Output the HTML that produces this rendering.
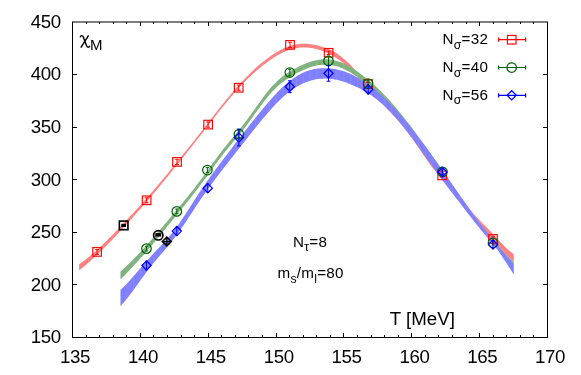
<!DOCTYPE html>
<html><head><meta charset="utf-8"><title>chart</title>
<style>
html,body{margin:0;padding:0;background:#fff;}
body{width:581px;height:375px;overflow:hidden;font-family:"Liberation Sans",sans-serif;}
svg{display:block;will-change:transform;}
svg text{font-family:"Liberation Sans",sans-serif;fill:#000;}
</style></head><body>
<svg width="581" height="375" viewBox="0 0 581 375">
<rect width="581" height="375" fill="#fff"/>
<defs><clipPath id="cr"><path d="M79.10 264.30 L80.78 263.12 L82.46 261.90 L84.14 260.64 L85.81 259.35 L87.49 258.02 L89.17 256.66 L90.85 255.27 L92.53 253.85 L94.21 252.39 L95.88 250.91 L97.56 249.39 L99.24 247.86 L100.92 246.29 L102.60 244.70 L104.28 243.09 L105.95 241.45 L107.63 239.79 L109.31 238.12 L110.99 236.43 L112.67 234.72 L114.35 232.99 L116.02 231.26 L117.70 229.51 L119.38 227.75 L121.06 225.98 L122.74 224.20 L124.42 222.42 L126.09 220.63 L127.77 218.84 L129.45 217.04 L131.13 215.24 L132.81 213.43 L134.49 211.61 L136.16 209.78 L137.84 207.94 L139.52 206.10 L141.20 204.24 L142.88 202.37 L144.56 200.49 L146.24 198.60 L147.91 196.69 L149.59 194.77 L151.27 192.83 L152.95 190.88 L154.63 188.92 L156.31 186.95 L157.98 184.97 L159.66 182.97 L161.34 180.97 L163.02 178.96 L164.70 176.94 L166.38 174.91 L168.05 172.88 L169.73 170.84 L171.41 168.79 L173.09 166.74 L174.77 164.68 L176.45 162.63 L178.12 160.56 L179.80 158.50 L181.48 156.43 L183.16 154.36 L184.84 152.28 L186.52 150.19 L188.19 148.10 L189.87 146.01 L191.55 143.91 L193.23 141.79 L194.91 139.68 L196.59 137.55 L198.26 135.42 L199.94 133.27 L201.62 131.12 L203.30 128.96 L204.98 126.80 L206.66 124.63 L208.34 122.47 L210.01 120.30 L211.69 118.14 L213.37 115.98 L215.05 113.83 L216.73 111.68 L218.41 109.55 L220.08 107.43 L221.76 105.32 L223.44 103.23 L225.12 101.15 L226.80 99.10 L228.48 97.06 L230.15 95.04 L231.83 93.05 L233.51 91.08 L235.19 89.14 L236.87 87.22 L238.55 85.34 L240.22 83.48 L241.90 81.66 L243.58 79.88 L245.26 78.13 L246.94 76.42 L248.62 74.73 L250.29 73.08 L251.97 71.46 L253.65 69.88 L255.33 68.33 L257.01 66.83 L258.69 65.37 L260.36 63.94 L262.04 62.56 L263.72 61.22 L265.40 59.91 L267.08 58.64 L268.76 57.41 L270.44 56.22 L272.11 55.07 L273.79 53.97 L275.47 52.91 L277.15 51.89 L278.83 50.93 L280.51 50.02 L282.18 49.16 L283.86 48.35 L285.54 47.61 L287.22 46.93 L288.90 46.32 L290.58 45.77 L292.25 45.29 L293.93 44.88 L295.61 44.53 L297.29 44.25 L298.97 44.03 L300.65 43.87 L302.32 43.77 L304.00 43.74 L305.68 43.77 L307.36 43.85 L309.04 43.99 L310.72 44.18 L312.39 44.43 L314.07 44.72 L315.75 45.06 L317.43 45.46 L319.11 45.90 L320.79 46.38 L322.46 46.89 L324.14 47.42 L325.82 47.99 L327.50 48.62 L329.18 49.30 L330.86 50.06 L332.54 50.90 L334.21 51.83 L335.89 52.86 L337.57 53.98 L339.25 55.18 L340.93 56.45 L342.61 57.80 L344.28 59.22 L345.96 60.70 L347.64 62.24 L349.32 63.84 L351.00 65.49 L352.68 67.19 L354.35 68.93 L356.03 70.71 L357.71 72.51 L359.39 74.33 L361.07 76.16 L362.75 77.99 L364.42 79.82 L366.10 81.64 L367.78 83.43 L369.46 85.19 L371.14 86.91 L372.82 88.59 L374.49 90.23 L376.17 91.83 L377.85 93.41 L379.53 94.98 L381.21 96.54 L382.89 98.11 L384.56 99.68 L386.24 101.27 L387.92 102.89 L389.60 104.54 L391.28 106.24 L392.96 107.99 L394.64 109.80 L396.31 111.67 L397.99 113.59 L399.67 115.57 L401.35 117.60 L403.03 119.67 L404.71 121.79 L406.38 123.96 L408.06 126.16 L409.74 128.41 L411.42 130.70 L413.10 133.02 L414.78 135.37 L416.45 137.76 L418.13 140.18 L419.81 142.62 L421.49 145.10 L423.17 147.59 L424.85 150.08 L426.52 152.55 L428.20 154.99 L429.88 157.37 L431.56 159.68 L433.24 161.89 L434.92 164.00 L436.59 166.00 L438.27 167.92 L439.95 169.81 L441.63 171.68 L443.31 173.56 L444.99 175.48 L446.66 177.49 L448.34 179.60 L450.02 181.78 L451.70 184.04 L453.38 186.36 L455.06 188.72 L456.74 191.11 L458.41 193.51 L460.09 195.92 L461.77 198.32 L463.45 200.70 L465.13 203.04 L466.81 205.33 L468.48 207.55 L470.16 209.70 L471.84 211.76 L473.52 213.74 L475.20 215.64 L476.88 217.48 L478.55 219.27 L480.23 221.01 L481.91 222.73 L483.59 224.43 L485.27 226.12 L486.95 227.82 L488.62 229.53 L490.30 231.27 L491.98 233.03 L493.66 234.82 L495.34 236.62 L497.02 238.42 L498.69 240.22 L500.37 242.00 L502.05 243.75 L503.73 245.46 L505.41 247.13 L507.09 248.75 L508.76 250.27 L510.44 251.70 L512.12 253.05 L513.80 254.30 L513.80 261.80 L512.12 260.35 L510.44 258.82 L508.76 257.22 L507.09 255.58 L505.41 253.91 L503.73 252.19 L502.05 250.44 L500.37 248.65 L498.69 246.85 L497.02 245.03 L495.34 243.21 L493.66 241.38 L491.98 239.57 L490.30 237.77 L488.62 236.00 L486.95 234.24 L485.27 232.50 L483.59 230.75 L481.91 228.99 L480.23 227.22 L478.55 225.42 L476.88 223.58 L475.20 221.70 L473.52 219.77 L471.84 217.77 L470.16 215.70 L468.48 213.55 L466.81 211.33 L465.13 209.04 L463.45 206.70 L461.77 204.32 L460.09 201.92 L458.41 199.51 L456.74 197.11 L455.06 194.72 L453.38 192.36 L451.70 190.04 L450.02 187.78 L448.34 185.60 L446.66 183.49 L444.99 181.48 L443.31 179.60 L441.63 177.81 L439.95 176.06 L438.27 174.32 L436.59 172.51 L434.92 170.60 L433.24 168.56 L431.56 166.41 L429.88 164.16 L428.20 161.84 L426.52 159.45 L424.85 157.02 L423.17 154.56 L421.49 152.09 L419.81 149.62 L418.13 147.18 L416.45 144.76 L414.78 142.37 L413.10 140.02 L411.42 137.70 L409.74 135.41 L408.06 133.16 L406.38 130.96 L404.71 128.79 L403.03 126.67 L401.35 124.60 L399.67 122.57 L397.99 120.59 L396.31 118.67 L394.64 116.80 L392.96 114.97 L391.28 113.18 L389.60 111.41 L387.92 109.67 L386.24 107.95 L384.56 106.24 L382.89 104.55 L381.21 102.85 L379.53 101.16 L377.85 99.45 L376.17 97.74 L374.49 96.01 L372.82 94.26 L371.14 92.47 L369.46 90.66 L367.78 88.81 L366.10 86.92 L364.42 85.00 L362.75 83.07 L361.07 81.14 L359.39 79.22 L357.71 77.32 L356.03 75.44 L354.35 73.60 L352.68 71.82 L351.00 70.09 L349.32 68.44 L347.64 66.86 L345.96 65.37 L344.28 63.95 L342.61 62.60 L340.93 61.31 L339.25 60.10 L337.57 58.95 L335.89 57.86 L334.21 56.82 L332.54 55.83 L330.86 54.87 L329.18 53.96 L327.50 53.11 L325.82 52.31 L324.14 51.57 L322.46 50.90 L320.79 50.30 L319.11 49.78 L317.43 49.30 L315.75 48.88 L314.07 48.50 L312.39 48.18 L310.72 47.92 L309.04 47.71 L307.36 47.56 L305.68 47.47 L304.00 47.44 L302.32 47.47 L300.65 47.57 L298.97 47.73 L297.29 47.95 L295.61 48.23 L293.93 48.58 L292.25 48.99 L290.58 49.47 L288.90 50.02 L287.22 50.63 L285.54 51.30 L283.86 52.03 L282.18 52.82 L280.51 53.66 L278.83 54.56 L277.15 55.51 L275.47 56.51 L273.79 57.56 L272.11 58.65 L270.44 59.79 L268.76 60.97 L267.08 62.19 L265.40 63.45 L263.72 64.75 L262.04 66.08 L260.36 67.45 L258.69 68.84 L257.01 70.26 L255.33 71.71 L253.65 73.19 L251.97 74.70 L250.29 76.24 L248.62 77.83 L246.94 79.46 L245.26 81.14 L243.58 82.86 L241.90 84.62 L240.22 86.41 L238.55 88.24 L236.87 90.10 L235.19 92.00 L233.51 93.92 L231.83 95.88 L230.15 97.86 L228.48 99.87 L226.80 101.90 L225.12 103.95 L223.44 106.03 L221.76 108.12 L220.08 110.23 L218.41 112.35 L216.73 114.48 L215.05 116.63 L213.37 118.78 L211.69 120.94 L210.01 123.10 L208.34 125.27 L206.66 127.43 L204.98 129.60 L203.30 131.76 L201.62 133.92 L199.94 136.07 L198.26 138.22 L196.59 140.36 L194.91 142.49 L193.23 144.62 L191.55 146.74 L189.87 148.85 L188.19 150.96 L186.52 153.07 L184.84 155.17 L183.16 157.27 L181.48 159.36 L179.80 161.45 L178.12 163.53 L176.45 165.61 L174.77 167.69 L173.09 169.76 L171.41 171.83 L169.73 173.90 L168.05 175.96 L166.38 178.02 L164.70 180.07 L163.02 182.12 L161.34 184.16 L159.66 186.19 L157.98 188.21 L156.31 190.23 L154.63 192.23 L152.95 194.22 L151.27 196.21 L149.59 198.18 L147.91 200.14 L146.24 202.09 L144.56 204.03 L142.88 205.96 L141.20 207.89 L139.52 209.80 L137.84 211.71 L136.16 213.60 L134.49 215.49 L132.81 217.37 L131.13 219.24 L129.45 221.10 L127.77 222.95 L126.09 224.80 L124.42 226.64 L122.74 228.47 L121.06 230.29 L119.38 232.10 L117.70 233.91 L116.02 235.70 L114.35 237.48 L112.67 239.24 L110.99 240.99 L109.31 242.73 L107.63 244.45 L105.95 246.15 L104.28 247.84 L102.60 249.51 L100.92 251.16 L99.24 252.78 L97.56 254.39 L95.88 255.97 L94.21 257.54 L92.53 259.07 L90.85 260.58 L89.17 262.06 L87.49 263.51 L85.81 264.94 L84.14 266.33 L82.46 267.69 L80.78 269.01 L79.10 270.30 Z"/></clipPath><clipPath id="cg"><path d="M120.45 271.50 L121.97 270.16 L123.49 268.80 L125.01 267.42 L126.52 266.01 L128.04 264.58 L129.56 263.12 L131.08 261.64 L132.60 260.13 L134.12 258.60 L135.64 257.04 L137.16 255.46 L138.67 253.86 L140.19 252.24 L141.71 250.60 L143.23 248.95 L144.75 247.28 L146.27 245.59 L147.79 243.89 L149.31 242.19 L150.82 240.46 L152.34 238.73 L153.86 236.99 L155.38 235.25 L156.90 233.49 L158.42 231.72 L159.94 229.95 L161.46 228.16 L162.97 226.38 L164.49 224.58 L166.01 222.78 L167.53 220.97 L169.05 219.15 L170.57 217.33 L172.09 215.51 L173.61 213.68 L175.12 211.85 L176.64 210.02 L178.16 208.18 L179.68 206.35 L181.20 204.51 L182.72 202.66 L184.24 200.81 L185.76 198.95 L187.27 197.08 L188.79 195.19 L190.31 193.30 L191.83 191.39 L193.35 189.46 L194.87 187.52 L196.39 185.56 L197.91 183.57 L199.42 181.57 L200.94 179.54 L202.46 177.49 L203.98 175.42 L205.50 173.33 L207.02 171.24 L208.54 169.14 L210.05 167.03 L211.57 164.93 L213.09 162.83 L214.61 160.74 L216.13 158.66 L217.65 156.60 L219.17 154.55 L220.69 152.53 L222.20 150.54 L223.72 148.57 L225.24 146.64 L226.76 144.75 L228.28 142.89 L229.80 141.04 L231.32 139.22 L232.84 137.40 L234.35 135.59 L235.87 133.77 L237.39 131.95 L238.91 130.11 L240.43 128.25 L241.95 126.36 L243.47 124.43 L244.99 122.47 L246.50 120.46 L248.02 118.41 L249.54 116.33 L251.06 114.22 L252.58 112.09 L254.10 109.96 L255.62 107.82 L257.14 105.69 L258.65 103.56 L260.17 101.46 L261.69 99.38 L263.21 97.34 L264.73 95.33 L266.25 93.36 L267.77 91.45 L269.29 89.59 L270.80 87.80 L272.32 86.08 L273.84 84.44 L275.36 82.89 L276.88 81.42 L278.40 80.04 L279.92 78.73 L281.43 77.49 L282.95 76.31 L284.47 75.19 L285.99 74.12 L287.51 73.09 L289.03 72.11 L290.55 71.16 L292.07 70.24 L293.58 69.36 L295.10 68.50 L296.62 67.67 L298.14 66.88 L299.66 66.12 L301.18 65.39 L302.70 64.69 L304.22 64.03 L305.73 63.40 L307.25 62.81 L308.77 62.26 L310.29 61.76 L311.81 61.30 L313.33 60.88 L314.85 60.51 L316.37 60.18 L317.88 59.91 L319.40 59.68 L320.92 59.50 L322.44 59.37 L323.96 59.31 L325.48 59.29 L327.00 59.34 L328.52 59.44 L330.03 59.59 L331.55 59.81 L333.07 60.08 L334.59 60.40 L336.11 60.79 L337.63 61.22 L339.15 61.72 L340.67 62.27 L342.18 62.87 L343.70 63.53 L345.22 64.24 L346.74 65.00 L348.26 65.81 L349.78 66.67 L351.30 67.58 L352.82 68.52 L354.33 69.50 L355.85 70.51 L357.37 71.56 L358.89 72.64 L360.41 73.75 L361.93 74.89 L363.45 76.07 L364.96 77.27 L366.48 78.50 L368.00 79.75 L369.52 81.02 L371.04 82.32 L372.56 83.63 L374.08 84.98 L375.60 86.35 L377.11 87.75 L378.63 89.17 L380.15 90.63 L381.67 92.12 L383.19 93.64 L384.71 95.20 L386.23 96.79 L387.75 98.42 L389.26 100.08 L390.78 101.77 L392.30 103.50 L393.82 105.25 L395.34 107.03 L396.86 108.84 L398.38 110.68 L399.90 112.54 L401.41 114.42 L402.93 116.32 L404.45 118.24 L405.97 120.18 L407.49 122.14 L409.01 124.11 L410.53 126.09 L412.05 128.08 L413.56 130.09 L415.08 132.11 L416.60 134.14 L418.12 136.19 L419.64 138.24 L421.16 140.31 L422.68 142.38 L424.20 144.47 L425.71 146.57 L427.23 148.68 L428.75 150.81 L430.27 152.94 L431.79 155.08 L433.31 157.24 L434.83 159.40 L436.34 161.58 L437.86 163.77 L439.38 165.97 L440.90 168.18 L442.42 170.40 L443.94 172.62 L445.46 174.85 L446.98 177.09 L448.49 179.32 L450.01 181.56 L451.53 183.80 L453.05 186.04 L454.57 188.27 L456.09 190.49 L457.61 192.72 L459.13 194.93 L460.64 197.13 L462.16 199.33 L463.68 201.52 L465.20 203.69 L466.72 205.86 L468.24 208.01 L469.76 210.14 L471.28 212.26 L472.79 214.36 L474.31 216.43 L475.83 218.49 L477.35 220.52 L478.87 222.52 L480.39 224.50 L481.91 226.45 L483.43 228.37 L484.94 230.27 L486.46 232.13 L487.98 233.97 L489.50 235.79 L491.02 237.59 L492.54 239.37 L494.06 241.12 L495.58 242.86 L497.09 244.58 L498.61 246.29 L500.13 248.01 L501.65 249.72 L503.17 251.42 L504.69 253.09 L506.21 254.70 L507.73 256.25 L509.24 257.74 L510.76 259.18 L512.28 260.56 L513.80 261.90 L513.80 265.10 L512.28 263.43 L510.76 261.77 L509.24 260.12 L507.73 258.50 L506.21 256.90 L504.69 255.34 L503.17 253.79 L501.65 252.23 L500.13 250.67 L498.61 249.06 L497.09 247.41 L495.58 245.74 L494.06 244.04 L492.54 242.33 L491.02 240.58 L489.50 238.82 L487.98 237.03 L486.46 235.21 L484.94 233.37 L483.43 231.51 L481.91 229.61 L480.39 227.69 L478.87 225.75 L477.35 223.77 L475.83 221.77 L474.31 219.74 L472.79 217.69 L471.28 215.62 L469.76 213.53 L468.24 211.42 L466.72 209.30 L465.20 207.17 L463.68 205.03 L462.16 202.88 L460.64 200.72 L459.13 198.56 L457.61 196.39 L456.09 194.23 L454.57 192.07 L453.05 189.90 L451.53 187.74 L450.01 185.58 L448.49 183.42 L446.98 181.26 L445.46 179.11 L443.94 176.95 L442.42 174.80 L440.90 172.66 L439.38 170.51 L437.86 168.37 L436.34 166.24 L434.83 164.11 L433.31 161.98 L431.79 159.87 L430.27 157.76 L428.75 155.66 L427.23 153.57 L425.71 151.49 L424.20 149.42 L422.68 147.36 L421.16 145.31 L419.64 143.27 L418.12 141.25 L416.60 139.23 L415.08 137.22 L413.56 135.23 L412.05 133.25 L410.53 131.28 L409.01 129.32 L407.49 127.38 L405.97 125.45 L404.45 123.54 L402.93 121.65 L401.41 119.77 L399.90 117.91 L398.38 116.08 L396.86 114.27 L395.34 112.49 L393.82 110.73 L392.30 109.00 L390.78 107.29 L389.26 105.62 L387.75 103.98 L386.23 102.37 L384.71 100.80 L383.19 99.26 L381.67 97.76 L380.15 96.29 L378.63 94.86 L377.11 93.45 L375.60 92.07 L374.08 90.72 L372.56 89.39 L371.04 88.09 L369.52 86.81 L368.00 85.54 L366.48 84.30 L364.96 83.07 L363.45 81.85 L361.93 80.65 L360.41 79.46 L358.89 78.29 L357.37 77.15 L355.85 76.04 L354.33 74.98 L352.82 73.96 L351.30 72.98 L349.78 72.07 L348.26 71.21 L346.74 70.40 L345.22 69.64 L343.70 68.93 L342.18 68.27 L340.67 67.67 L339.15 67.12 L337.63 66.62 L336.11 66.19 L334.59 65.80 L333.07 65.48 L331.55 65.21 L330.03 64.99 L328.52 64.84 L327.00 64.74 L325.48 64.69 L323.96 64.71 L322.44 64.77 L320.92 64.90 L319.40 65.08 L317.88 65.32 L316.37 65.61 L314.85 65.96 L313.33 66.36 L311.81 66.81 L310.29 67.30 L308.77 67.83 L307.25 68.40 L305.73 69.00 L304.22 69.63 L302.70 70.29 L301.18 70.99 L299.66 71.72 L298.14 72.48 L296.62 73.27 L295.10 74.10 L293.58 74.96 L292.07 75.84 L290.55 76.76 L289.03 77.71 L287.51 78.69 L285.99 79.71 L284.47 80.77 L282.95 81.88 L281.43 83.05 L279.92 84.28 L278.40 85.57 L276.88 86.94 L275.36 88.39 L273.84 89.93 L272.32 91.54 L270.80 93.23 L269.29 94.98 L267.77 96.80 L266.25 98.68 L264.73 100.61 L263.21 102.59 L261.69 104.61 L260.17 106.66 L258.65 108.75 L257.14 110.86 L255.62 112.98 L254.10 115.11 L252.58 117.24 L251.06 119.36 L249.54 121.46 L248.02 123.53 L246.50 125.57 L244.99 127.57 L243.47 129.52 L241.95 131.43 L240.43 133.30 L238.91 135.15 L237.39 136.97 L235.87 138.78 L234.35 140.58 L232.84 142.37 L231.32 144.17 L229.80 145.98 L228.28 147.81 L226.76 149.66 L225.24 151.55 L223.72 153.47 L222.20 155.42 L220.69 157.41 L219.17 159.42 L217.65 161.45 L216.13 163.51 L214.61 165.58 L213.09 167.66 L211.57 169.76 L210.05 171.85 L208.54 173.95 L207.02 176.05 L205.50 178.14 L203.98 180.22 L202.46 182.29 L200.94 184.34 L199.42 186.37 L197.91 188.38 L196.39 190.36 L194.87 192.33 L193.35 194.28 L191.83 196.22 L190.31 198.14 L188.79 200.04 L187.27 201.94 L185.76 203.82 L184.24 205.70 L182.72 207.57 L181.20 209.43 L179.68 211.29 L178.16 213.14 L176.64 214.99 L175.12 216.85 L173.61 218.71 L172.09 220.57 L170.57 222.43 L169.05 224.30 L167.53 226.17 L166.01 228.04 L164.49 229.91 L162.97 231.77 L161.46 233.63 L159.94 235.49 L158.42 237.33 L156.90 239.17 L155.38 241.01 L153.86 242.83 L152.34 244.64 L150.82 246.43 L149.31 248.21 L147.79 249.98 L146.27 251.73 L144.75 253.47 L143.23 255.19 L141.71 256.90 L140.19 258.59 L138.67 260.28 L137.16 261.95 L135.64 263.61 L134.12 265.26 L132.60 266.90 L131.08 268.53 L129.56 270.15 L128.04 271.76 L126.52 273.36 L125.01 274.94 L123.49 276.51 L121.97 278.06 L120.45 279.60 Z"/></clipPath><clipPath id="cb"><path d="M120.45 290.00 L121.97 288.56 L123.49 287.07 L125.01 285.52 L126.52 283.93 L128.04 282.30 L129.56 280.63 L131.08 278.94 L132.60 277.21 L134.12 275.47 L135.64 273.71 L137.16 271.96 L138.67 270.21 L140.19 268.47 L141.71 266.74 L143.23 265.01 L144.75 263.28 L146.27 261.56 L147.79 259.85 L149.31 258.13 L150.82 256.43 L152.34 254.75 L153.86 253.10 L155.38 251.47 L156.90 249.85 L158.42 248.24 L159.94 246.63 L161.46 245.01 L162.97 243.38 L164.49 241.72 L166.01 240.04 L167.53 238.33 L169.05 236.58 L170.57 234.78 L172.09 232.93 L173.61 231.01 L175.12 229.04 L176.64 226.99 L178.16 224.88 L179.68 222.72 L181.20 220.50 L182.72 218.25 L184.24 215.96 L185.76 213.63 L187.27 211.29 L188.79 208.92 L190.31 206.55 L191.83 204.17 L193.35 201.79 L194.87 199.42 L196.39 197.06 L197.91 194.73 L199.42 192.42 L200.94 190.14 L202.46 187.89 L203.98 185.67 L205.50 183.48 L207.02 181.32 L208.54 179.18 L210.05 177.05 L211.57 174.95 L213.09 172.87 L214.61 170.81 L216.13 168.76 L217.65 166.72 L219.17 164.70 L220.69 162.68 L222.20 160.68 L223.72 158.68 L225.24 156.68 L226.76 154.69 L228.28 152.70 L229.80 150.71 L231.32 148.73 L232.84 146.74 L234.35 144.76 L235.87 142.79 L237.39 140.82 L238.91 138.86 L240.43 136.90 L241.95 134.95 L243.47 133.00 L244.99 131.07 L246.50 129.14 L248.02 127.21 L249.54 125.29 L251.06 123.37 L252.58 121.46 L254.10 119.55 L255.62 117.66 L257.14 115.77 L258.65 113.90 L260.17 112.04 L261.69 110.19 L263.21 108.35 L264.73 106.52 L266.25 104.71 L267.77 102.92 L269.29 101.16 L270.80 99.42 L272.32 97.72 L273.84 96.05 L275.36 94.42 L276.88 92.82 L278.40 91.27 L279.92 89.76 L281.43 88.29 L282.95 86.86 L284.47 85.48 L285.99 84.14 L287.51 82.85 L289.03 81.62 L290.55 80.43 L292.07 79.29 L293.58 78.20 L295.10 77.16 L296.62 76.18 L298.14 75.25 L299.66 74.38 L301.18 73.57 L302.70 72.82 L304.22 72.13 L305.73 71.51 L307.25 70.95 L308.77 70.46 L310.29 70.02 L311.81 69.65 L313.33 69.32 L314.85 69.04 L316.37 68.81 L317.88 68.61 L319.40 68.45 L320.92 68.33 L322.44 68.24 L323.96 68.19 L325.48 68.19 L327.00 68.23 L328.52 68.30 L330.03 68.42 L331.55 68.58 L333.07 68.79 L334.59 69.03 L336.11 69.31 L337.63 69.64 L339.15 70.00 L340.67 70.40 L342.18 70.84 L343.70 71.32 L345.22 71.84 L346.74 72.39 L348.26 72.98 L349.78 73.61 L351.30 74.28 L352.82 75.01 L354.33 75.79 L355.85 76.63 L357.37 77.51 L358.89 78.43 L360.41 79.38 L361.93 80.36 L363.45 81.36 L364.96 82.38 L366.48 83.41 L368.00 84.49 L369.52 85.59 L371.04 86.73 L372.56 87.90 L374.08 89.10 L375.60 90.33 L377.11 91.59 L378.63 92.89 L380.15 94.22 L381.67 95.57 L383.19 96.96 L384.71 98.37 L386.23 99.82 L387.75 101.30 L389.26 102.81 L390.78 104.35 L392.30 105.93 L393.82 107.53 L395.34 109.17 L396.86 110.84 L398.38 112.53 L399.90 114.26 L401.41 116.01 L402.93 117.80 L404.45 119.61 L405.97 121.44 L407.49 123.31 L409.01 125.20 L410.53 127.12 L412.05 129.05 L413.56 131.00 L415.08 132.97 L416.60 134.95 L418.12 136.95 L419.64 138.96 L421.16 140.98 L422.68 143.02 L424.20 145.07 L425.71 147.12 L427.23 149.19 L428.75 151.27 L430.27 153.35 L431.79 155.45 L433.31 157.55 L434.83 159.66 L436.34 161.78 L437.86 163.91 L439.38 166.05 L440.90 168.20 L442.42 170.36 L443.94 172.52 L445.46 174.69 L446.98 176.87 L448.49 179.05 L450.01 181.23 L451.53 183.42 L453.05 185.60 L454.57 187.78 L456.09 189.96 L457.61 192.14 L459.13 194.30 L460.64 196.47 L462.16 198.64 L463.68 200.81 L465.20 202.98 L466.72 205.15 L468.24 207.31 L469.76 209.47 L471.28 211.61 L472.79 213.74 L474.31 215.84 L475.83 217.92 L477.35 219.98 L478.87 222.01 L480.39 224.01 L481.91 225.98 L483.43 227.94 L484.94 229.88 L486.46 231.80 L487.98 233.72 L489.50 235.63 L491.02 237.54 L492.54 239.44 L494.06 241.34 L495.58 243.25 L497.09 245.16 L498.61 247.06 L500.13 248.82 L501.65 250.47 L503.17 252.07 L504.69 253.69 L506.21 255.39 L507.73 257.17 L509.24 258.99 L510.76 260.84 L512.28 262.73 L513.80 264.65 L513.80 274.55 L512.28 272.15 L510.76 269.77 L509.24 267.42 L507.73 265.08 L506.21 262.76 L504.69 260.40 L503.17 258.02 L501.65 255.66 L500.13 253.40 L498.61 251.29 L497.09 249.36 L495.58 247.48 L494.06 245.62 L492.54 243.77 L491.02 241.95 L489.50 240.13 L487.98 238.32 L486.46 236.51 L484.94 234.69 L483.43 232.87 L481.91 231.03 L480.39 229.18 L478.87 227.30 L477.35 225.42 L475.83 223.53 L474.31 221.63 L472.79 219.71 L471.28 217.79 L469.76 215.86 L468.24 213.93 L466.72 211.98 L465.20 210.02 L463.68 208.05 L462.16 206.08 L460.64 204.09 L459.13 202.10 L457.61 200.12 L456.09 198.14 L454.57 196.16 L453.05 194.18 L451.53 192.20 L450.01 190.21 L448.49 188.23 L446.98 186.23 L445.46 184.23 L443.94 182.22 L442.42 180.20 L440.90 178.16 L439.38 176.11 L437.86 174.05 L436.34 171.96 L434.83 169.86 L433.31 167.74 L431.79 165.61 L430.27 163.46 L428.75 161.32 L427.23 159.17 L425.71 157.02 L424.20 154.87 L422.68 152.72 L421.16 150.58 L419.64 148.46 L418.12 146.34 L416.60 144.24 L415.08 142.16 L413.56 140.10 L412.05 138.06 L410.53 136.04 L409.01 134.05 L407.49 132.09 L405.97 130.15 L404.45 128.23 L402.93 126.34 L401.41 124.47 L399.90 122.64 L398.38 120.84 L396.86 119.07 L395.34 117.33 L393.82 115.63 L392.30 113.97 L390.78 112.34 L389.26 110.76 L387.75 109.22 L386.23 107.73 L384.71 106.28 L383.19 104.87 L381.67 103.52 L380.15 102.22 L378.63 100.96 L377.11 99.74 L375.60 98.57 L374.08 97.43 L372.56 96.34 L371.04 95.28 L369.52 94.26 L368.00 93.27 L366.48 92.31 L364.96 91.38 L363.45 90.49 L361.93 89.65 L360.41 88.85 L358.89 88.09 L357.37 87.36 L355.85 86.65 L354.33 85.97 L352.82 85.31 L351.30 84.65 L349.78 84.01 L348.26 83.38 L346.74 82.79 L345.22 82.24 L343.70 81.72 L342.18 81.24 L340.67 80.80 L339.15 80.40 L337.63 80.04 L336.11 79.71 L334.59 79.43 L333.07 79.19 L331.55 78.98 L330.03 78.82 L328.52 78.70 L327.00 78.63 L325.48 78.59 L323.96 78.59 L322.44 78.64 L320.92 78.73 L319.40 78.86 L317.88 79.04 L316.37 79.27 L314.85 79.55 L313.33 79.89 L311.81 80.27 L310.29 80.71 L308.77 81.19 L307.25 81.72 L305.73 82.30 L304.22 82.93 L302.70 83.61 L301.18 84.34 L299.66 85.12 L298.14 85.96 L296.62 86.85 L295.10 87.79 L293.58 88.78 L292.07 89.83 L290.55 90.94 L289.03 92.10 L287.51 93.31 L285.99 94.56 L284.47 95.87 L282.95 97.22 L281.43 98.62 L279.92 100.06 L278.40 101.54 L276.88 103.06 L275.36 104.62 L273.84 106.22 L272.32 107.86 L270.80 109.52 L269.29 111.22 L267.77 112.94 L266.25 114.69 L264.73 116.47 L263.21 118.27 L261.69 120.09 L260.17 121.94 L258.65 123.80 L257.14 125.67 L255.62 127.56 L254.10 129.45 L252.58 131.36 L251.06 133.27 L249.54 135.19 L248.02 137.11 L246.50 139.04 L244.99 140.97 L243.47 142.90 L241.95 144.83 L240.43 146.75 L238.91 148.68 L237.39 150.60 L235.87 152.52 L234.35 154.45 L232.84 156.38 L231.32 158.31 L229.80 160.25 L228.28 162.19 L226.76 164.13 L225.24 166.09 L223.72 168.05 L222.20 170.02 L220.69 171.99 L219.17 173.98 L217.65 175.97 L216.13 177.98 L214.61 180.01 L213.09 182.04 L211.57 184.10 L210.05 186.17 L208.54 188.26 L207.02 190.38 L205.50 192.51 L203.98 194.67 L202.46 196.85 L200.94 199.06 L199.42 201.30 L197.91 203.56 L196.39 205.84 L194.87 208.14 L193.35 210.44 L191.83 212.75 L190.31 215.06 L188.79 217.36 L187.27 219.65 L185.76 221.92 L184.24 224.18 L182.72 226.41 L181.20 228.61 L179.68 230.78 L178.16 232.91 L176.64 235.00 L175.12 237.04 L173.61 239.02 L172.09 240.97 L170.57 242.87 L169.05 244.74 L167.53 246.58 L166.01 248.40 L164.49 250.20 L162.97 251.98 L161.46 253.76 L159.94 255.54 L158.42 257.31 L156.90 259.10 L155.38 260.90 L153.86 262.71 L152.34 264.55 L150.82 266.42 L149.31 268.33 L147.79 270.29 L146.27 272.31 L144.75 274.38 L143.23 276.48 L141.71 278.60 L140.19 280.73 L138.67 282.86 L137.16 284.98 L135.64 287.08 L134.12 289.15 L132.60 291.20 L131.08 293.22 L129.56 295.21 L128.04 297.16 L126.52 299.07 L125.01 300.94 L123.49 302.75 L121.97 304.51 L120.45 306.20 Z"/></clipPath></defs>
<g>
<path d="M79.10 264.30 L80.78 263.12 L82.46 261.90 L84.14 260.64 L85.81 259.35 L87.49 258.02 L89.17 256.66 L90.85 255.27 L92.53 253.85 L94.21 252.39 L95.88 250.91 L97.56 249.39 L99.24 247.86 L100.92 246.29 L102.60 244.70 L104.28 243.09 L105.95 241.45 L107.63 239.79 L109.31 238.12 L110.99 236.43 L112.67 234.72 L114.35 232.99 L116.02 231.26 L117.70 229.51 L119.38 227.75 L121.06 225.98 L122.74 224.20 L124.42 222.42 L126.09 220.63 L127.77 218.84 L129.45 217.04 L131.13 215.24 L132.81 213.43 L134.49 211.61 L136.16 209.78 L137.84 207.94 L139.52 206.10 L141.20 204.24 L142.88 202.37 L144.56 200.49 L146.24 198.60 L147.91 196.69 L149.59 194.77 L151.27 192.83 L152.95 190.88 L154.63 188.92 L156.31 186.95 L157.98 184.97 L159.66 182.97 L161.34 180.97 L163.02 178.96 L164.70 176.94 L166.38 174.91 L168.05 172.88 L169.73 170.84 L171.41 168.79 L173.09 166.74 L174.77 164.68 L176.45 162.63 L178.12 160.56 L179.80 158.50 L181.48 156.43 L183.16 154.36 L184.84 152.28 L186.52 150.19 L188.19 148.10 L189.87 146.01 L191.55 143.91 L193.23 141.79 L194.91 139.68 L196.59 137.55 L198.26 135.42 L199.94 133.27 L201.62 131.12 L203.30 128.96 L204.98 126.80 L206.66 124.63 L208.34 122.47 L210.01 120.30 L211.69 118.14 L213.37 115.98 L215.05 113.83 L216.73 111.68 L218.41 109.55 L220.08 107.43 L221.76 105.32 L223.44 103.23 L225.12 101.15 L226.80 99.10 L228.48 97.06 L230.15 95.04 L231.83 93.05 L233.51 91.08 L235.19 89.14 L236.87 87.22 L238.55 85.34 L240.22 83.48 L241.90 81.66 L243.58 79.88 L245.26 78.13 L246.94 76.42 L248.62 74.73 L250.29 73.08 L251.97 71.46 L253.65 69.88 L255.33 68.33 L257.01 66.83 L258.69 65.37 L260.36 63.94 L262.04 62.56 L263.72 61.22 L265.40 59.91 L267.08 58.64 L268.76 57.41 L270.44 56.22 L272.11 55.07 L273.79 53.97 L275.47 52.91 L277.15 51.89 L278.83 50.93 L280.51 50.02 L282.18 49.16 L283.86 48.35 L285.54 47.61 L287.22 46.93 L288.90 46.32 L290.58 45.77 L292.25 45.29 L293.93 44.88 L295.61 44.53 L297.29 44.25 L298.97 44.03 L300.65 43.87 L302.32 43.77 L304.00 43.74 L305.68 43.77 L307.36 43.85 L309.04 43.99 L310.72 44.18 L312.39 44.43 L314.07 44.72 L315.75 45.06 L317.43 45.46 L319.11 45.90 L320.79 46.38 L322.46 46.89 L324.14 47.42 L325.82 47.99 L327.50 48.62 L329.18 49.30 L330.86 50.06 L332.54 50.90 L334.21 51.83 L335.89 52.86 L337.57 53.98 L339.25 55.18 L340.93 56.45 L342.61 57.80 L344.28 59.22 L345.96 60.70 L347.64 62.24 L349.32 63.84 L351.00 65.49 L352.68 67.19 L354.35 68.93 L356.03 70.71 L357.71 72.51 L359.39 74.33 L361.07 76.16 L362.75 77.99 L364.42 79.82 L366.10 81.64 L367.78 83.43 L369.46 85.19 L371.14 86.91 L372.82 88.59 L374.49 90.23 L376.17 91.83 L377.85 93.41 L379.53 94.98 L381.21 96.54 L382.89 98.11 L384.56 99.68 L386.24 101.27 L387.92 102.89 L389.60 104.54 L391.28 106.24 L392.96 107.99 L394.64 109.80 L396.31 111.67 L397.99 113.59 L399.67 115.57 L401.35 117.60 L403.03 119.67 L404.71 121.79 L406.38 123.96 L408.06 126.16 L409.74 128.41 L411.42 130.70 L413.10 133.02 L414.78 135.37 L416.45 137.76 L418.13 140.18 L419.81 142.62 L421.49 145.10 L423.17 147.59 L424.85 150.08 L426.52 152.55 L428.20 154.99 L429.88 157.37 L431.56 159.68 L433.24 161.89 L434.92 164.00 L436.59 166.00 L438.27 167.92 L439.95 169.81 L441.63 171.68 L443.31 173.56 L444.99 175.48 L446.66 177.49 L448.34 179.60 L450.02 181.78 L451.70 184.04 L453.38 186.36 L455.06 188.72 L456.74 191.11 L458.41 193.51 L460.09 195.92 L461.77 198.32 L463.45 200.70 L465.13 203.04 L466.81 205.33 L468.48 207.55 L470.16 209.70 L471.84 211.76 L473.52 213.74 L475.20 215.64 L476.88 217.48 L478.55 219.27 L480.23 221.01 L481.91 222.73 L483.59 224.43 L485.27 226.12 L486.95 227.82 L488.62 229.53 L490.30 231.27 L491.98 233.03 L493.66 234.82 L495.34 236.62 L497.02 238.42 L498.69 240.22 L500.37 242.00 L502.05 243.75 L503.73 245.46 L505.41 247.13 L507.09 248.75 L508.76 250.27 L510.44 251.70 L512.12 253.05 L513.80 254.30 L513.80 261.80 L512.12 260.35 L510.44 258.82 L508.76 257.22 L507.09 255.58 L505.41 253.91 L503.73 252.19 L502.05 250.44 L500.37 248.65 L498.69 246.85 L497.02 245.03 L495.34 243.21 L493.66 241.38 L491.98 239.57 L490.30 237.77 L488.62 236.00 L486.95 234.24 L485.27 232.50 L483.59 230.75 L481.91 228.99 L480.23 227.22 L478.55 225.42 L476.88 223.58 L475.20 221.70 L473.52 219.77 L471.84 217.77 L470.16 215.70 L468.48 213.55 L466.81 211.33 L465.13 209.04 L463.45 206.70 L461.77 204.32 L460.09 201.92 L458.41 199.51 L456.74 197.11 L455.06 194.72 L453.38 192.36 L451.70 190.04 L450.02 187.78 L448.34 185.60 L446.66 183.49 L444.99 181.48 L443.31 179.60 L441.63 177.81 L439.95 176.06 L438.27 174.32 L436.59 172.51 L434.92 170.60 L433.24 168.56 L431.56 166.41 L429.88 164.16 L428.20 161.84 L426.52 159.45 L424.85 157.02 L423.17 154.56 L421.49 152.09 L419.81 149.62 L418.13 147.18 L416.45 144.76 L414.78 142.37 L413.10 140.02 L411.42 137.70 L409.74 135.41 L408.06 133.16 L406.38 130.96 L404.71 128.79 L403.03 126.67 L401.35 124.60 L399.67 122.57 L397.99 120.59 L396.31 118.67 L394.64 116.80 L392.96 114.97 L391.28 113.18 L389.60 111.41 L387.92 109.67 L386.24 107.95 L384.56 106.24 L382.89 104.55 L381.21 102.85 L379.53 101.16 L377.85 99.45 L376.17 97.74 L374.49 96.01 L372.82 94.26 L371.14 92.47 L369.46 90.66 L367.78 88.81 L366.10 86.92 L364.42 85.00 L362.75 83.07 L361.07 81.14 L359.39 79.22 L357.71 77.32 L356.03 75.44 L354.35 73.60 L352.68 71.82 L351.00 70.09 L349.32 68.44 L347.64 66.86 L345.96 65.37 L344.28 63.95 L342.61 62.60 L340.93 61.31 L339.25 60.10 L337.57 58.95 L335.89 57.86 L334.21 56.82 L332.54 55.83 L330.86 54.87 L329.18 53.96 L327.50 53.11 L325.82 52.31 L324.14 51.57 L322.46 50.90 L320.79 50.30 L319.11 49.78 L317.43 49.30 L315.75 48.88 L314.07 48.50 L312.39 48.18 L310.72 47.92 L309.04 47.71 L307.36 47.56 L305.68 47.47 L304.00 47.44 L302.32 47.47 L300.65 47.57 L298.97 47.73 L297.29 47.95 L295.61 48.23 L293.93 48.58 L292.25 48.99 L290.58 49.47 L288.90 50.02 L287.22 50.63 L285.54 51.30 L283.86 52.03 L282.18 52.82 L280.51 53.66 L278.83 54.56 L277.15 55.51 L275.47 56.51 L273.79 57.56 L272.11 58.65 L270.44 59.79 L268.76 60.97 L267.08 62.19 L265.40 63.45 L263.72 64.75 L262.04 66.08 L260.36 67.45 L258.69 68.84 L257.01 70.26 L255.33 71.71 L253.65 73.19 L251.97 74.70 L250.29 76.24 L248.62 77.83 L246.94 79.46 L245.26 81.14 L243.58 82.86 L241.90 84.62 L240.22 86.41 L238.55 88.24 L236.87 90.10 L235.19 92.00 L233.51 93.92 L231.83 95.88 L230.15 97.86 L228.48 99.87 L226.80 101.90 L225.12 103.95 L223.44 106.03 L221.76 108.12 L220.08 110.23 L218.41 112.35 L216.73 114.48 L215.05 116.63 L213.37 118.78 L211.69 120.94 L210.01 123.10 L208.34 125.27 L206.66 127.43 L204.98 129.60 L203.30 131.76 L201.62 133.92 L199.94 136.07 L198.26 138.22 L196.59 140.36 L194.91 142.49 L193.23 144.62 L191.55 146.74 L189.87 148.85 L188.19 150.96 L186.52 153.07 L184.84 155.17 L183.16 157.27 L181.48 159.36 L179.80 161.45 L178.12 163.53 L176.45 165.61 L174.77 167.69 L173.09 169.76 L171.41 171.83 L169.73 173.90 L168.05 175.96 L166.38 178.02 L164.70 180.07 L163.02 182.12 L161.34 184.16 L159.66 186.19 L157.98 188.21 L156.31 190.23 L154.63 192.23 L152.95 194.22 L151.27 196.21 L149.59 198.18 L147.91 200.14 L146.24 202.09 L144.56 204.03 L142.88 205.96 L141.20 207.89 L139.52 209.80 L137.84 211.71 L136.16 213.60 L134.49 215.49 L132.81 217.37 L131.13 219.24 L129.45 221.10 L127.77 222.95 L126.09 224.80 L124.42 226.64 L122.74 228.47 L121.06 230.29 L119.38 232.10 L117.70 233.91 L116.02 235.70 L114.35 237.48 L112.67 239.24 L110.99 240.99 L109.31 242.73 L107.63 244.45 L105.95 246.15 L104.28 247.84 L102.60 249.51 L100.92 251.16 L99.24 252.78 L97.56 254.39 L95.88 255.97 L94.21 257.54 L92.53 259.07 L90.85 260.58 L89.17 262.06 L87.49 263.51 L85.81 264.94 L84.14 266.33 L82.46 267.69 L80.78 269.01 L79.10 270.30 Z" fill="#ff8080"/>
<path d="M86.07 20V340M92.86 20V340M99.64 20V340M106.43 20V340M113.21 20V340M120.00 20V340M126.79 20V340M133.57 20V340M140.36 20V340M147.14 20V340M153.93 20V340M160.71 20V340M167.50 20V340M174.29 20V340M181.07 20V340M187.86 20V340M194.64 20V340M201.43 20V340M208.21 20V340M215.00 20V340M221.79 20V340M228.57 20V340M235.36 20V340M242.14 20V340M248.93 20V340M255.71 20V340M262.50 20V340M269.29 20V340M276.07 20V340M282.86 20V340M289.64 20V340M296.43 20V340M303.21 20V340M310.00 20V340M316.79 20V340M323.57 20V340M330.36 20V340M337.14 20V340M343.93 20V340M350.71 20V340M357.50 20V340M364.29 20V340M371.07 20V340M377.86 20V340M384.64 20V340M391.43 20V340M398.21 20V340M405.00 20V340M411.79 20V340M418.57 20V340M425.36 20V340M432.14 20V340M438.93 20V340M445.71 20V340M452.50 20V340M459.29 20V340M466.07 20V340M472.86 20V340M479.64 20V340M486.43 20V340M493.21 20V340M500.00 20V340M506.79 20V340" stroke="#fff" stroke-opacity="0.07" stroke-width="1" fill="none" clip-path="url(#cr)"/>
<path d="M120.45 271.50 L121.97 270.16 L123.49 268.80 L125.01 267.42 L126.52 266.01 L128.04 264.58 L129.56 263.12 L131.08 261.64 L132.60 260.13 L134.12 258.60 L135.64 257.04 L137.16 255.46 L138.67 253.86 L140.19 252.24 L141.71 250.60 L143.23 248.95 L144.75 247.28 L146.27 245.59 L147.79 243.89 L149.31 242.19 L150.82 240.46 L152.34 238.73 L153.86 236.99 L155.38 235.25 L156.90 233.49 L158.42 231.72 L159.94 229.95 L161.46 228.16 L162.97 226.38 L164.49 224.58 L166.01 222.78 L167.53 220.97 L169.05 219.15 L170.57 217.33 L172.09 215.51 L173.61 213.68 L175.12 211.85 L176.64 210.02 L178.16 208.18 L179.68 206.35 L181.20 204.51 L182.72 202.66 L184.24 200.81 L185.76 198.95 L187.27 197.08 L188.79 195.19 L190.31 193.30 L191.83 191.39 L193.35 189.46 L194.87 187.52 L196.39 185.56 L197.91 183.57 L199.42 181.57 L200.94 179.54 L202.46 177.49 L203.98 175.42 L205.50 173.33 L207.02 171.24 L208.54 169.14 L210.05 167.03 L211.57 164.93 L213.09 162.83 L214.61 160.74 L216.13 158.66 L217.65 156.60 L219.17 154.55 L220.69 152.53 L222.20 150.54 L223.72 148.57 L225.24 146.64 L226.76 144.75 L228.28 142.89 L229.80 141.04 L231.32 139.22 L232.84 137.40 L234.35 135.59 L235.87 133.77 L237.39 131.95 L238.91 130.11 L240.43 128.25 L241.95 126.36 L243.47 124.43 L244.99 122.47 L246.50 120.46 L248.02 118.41 L249.54 116.33 L251.06 114.22 L252.58 112.09 L254.10 109.96 L255.62 107.82 L257.14 105.69 L258.65 103.56 L260.17 101.46 L261.69 99.38 L263.21 97.34 L264.73 95.33 L266.25 93.36 L267.77 91.45 L269.29 89.59 L270.80 87.80 L272.32 86.08 L273.84 84.44 L275.36 82.89 L276.88 81.42 L278.40 80.04 L279.92 78.73 L281.43 77.49 L282.95 76.31 L284.47 75.19 L285.99 74.12 L287.51 73.09 L289.03 72.11 L290.55 71.16 L292.07 70.24 L293.58 69.36 L295.10 68.50 L296.62 67.67 L298.14 66.88 L299.66 66.12 L301.18 65.39 L302.70 64.69 L304.22 64.03 L305.73 63.40 L307.25 62.81 L308.77 62.26 L310.29 61.76 L311.81 61.30 L313.33 60.88 L314.85 60.51 L316.37 60.18 L317.88 59.91 L319.40 59.68 L320.92 59.50 L322.44 59.37 L323.96 59.31 L325.48 59.29 L327.00 59.34 L328.52 59.44 L330.03 59.59 L331.55 59.81 L333.07 60.08 L334.59 60.40 L336.11 60.79 L337.63 61.22 L339.15 61.72 L340.67 62.27 L342.18 62.87 L343.70 63.53 L345.22 64.24 L346.74 65.00 L348.26 65.81 L349.78 66.67 L351.30 67.58 L352.82 68.52 L354.33 69.50 L355.85 70.51 L357.37 71.56 L358.89 72.64 L360.41 73.75 L361.93 74.89 L363.45 76.07 L364.96 77.27 L366.48 78.50 L368.00 79.75 L369.52 81.02 L371.04 82.32 L372.56 83.63 L374.08 84.98 L375.60 86.35 L377.11 87.75 L378.63 89.17 L380.15 90.63 L381.67 92.12 L383.19 93.64 L384.71 95.20 L386.23 96.79 L387.75 98.42 L389.26 100.08 L390.78 101.77 L392.30 103.50 L393.82 105.25 L395.34 107.03 L396.86 108.84 L398.38 110.68 L399.90 112.54 L401.41 114.42 L402.93 116.32 L404.45 118.24 L405.97 120.18 L407.49 122.14 L409.01 124.11 L410.53 126.09 L412.05 128.08 L413.56 130.09 L415.08 132.11 L416.60 134.14 L418.12 136.19 L419.64 138.24 L421.16 140.31 L422.68 142.38 L424.20 144.47 L425.71 146.57 L427.23 148.68 L428.75 150.81 L430.27 152.94 L431.79 155.08 L433.31 157.24 L434.83 159.40 L436.34 161.58 L437.86 163.77 L439.38 165.97 L440.90 168.18 L442.42 170.40 L443.94 172.62 L445.46 174.85 L446.98 177.09 L448.49 179.32 L450.01 181.56 L451.53 183.80 L453.05 186.04 L454.57 188.27 L456.09 190.49 L457.61 192.72 L459.13 194.93 L460.64 197.13 L462.16 199.33 L463.68 201.52 L465.20 203.69 L466.72 205.86 L468.24 208.01 L469.76 210.14 L471.28 212.26 L472.79 214.36 L474.31 216.43 L475.83 218.49 L477.35 220.52 L478.87 222.52 L480.39 224.50 L481.91 226.45 L483.43 228.37 L484.94 230.27 L486.46 232.13 L487.98 233.97 L489.50 235.79 L491.02 237.59 L492.54 239.37 L494.06 241.12 L495.58 242.86 L497.09 244.58 L498.61 246.29 L500.13 248.01 L501.65 249.72 L503.17 251.42 L504.69 253.09 L506.21 254.70 L507.73 256.25 L509.24 257.74 L510.76 259.18 L512.28 260.56 L513.80 261.90 L513.80 265.10 L512.28 263.43 L510.76 261.77 L509.24 260.12 L507.73 258.50 L506.21 256.90 L504.69 255.34 L503.17 253.79 L501.65 252.23 L500.13 250.67 L498.61 249.06 L497.09 247.41 L495.58 245.74 L494.06 244.04 L492.54 242.33 L491.02 240.58 L489.50 238.82 L487.98 237.03 L486.46 235.21 L484.94 233.37 L483.43 231.51 L481.91 229.61 L480.39 227.69 L478.87 225.75 L477.35 223.77 L475.83 221.77 L474.31 219.74 L472.79 217.69 L471.28 215.62 L469.76 213.53 L468.24 211.42 L466.72 209.30 L465.20 207.17 L463.68 205.03 L462.16 202.88 L460.64 200.72 L459.13 198.56 L457.61 196.39 L456.09 194.23 L454.57 192.07 L453.05 189.90 L451.53 187.74 L450.01 185.58 L448.49 183.42 L446.98 181.26 L445.46 179.11 L443.94 176.95 L442.42 174.80 L440.90 172.66 L439.38 170.51 L437.86 168.37 L436.34 166.24 L434.83 164.11 L433.31 161.98 L431.79 159.87 L430.27 157.76 L428.75 155.66 L427.23 153.57 L425.71 151.49 L424.20 149.42 L422.68 147.36 L421.16 145.31 L419.64 143.27 L418.12 141.25 L416.60 139.23 L415.08 137.22 L413.56 135.23 L412.05 133.25 L410.53 131.28 L409.01 129.32 L407.49 127.38 L405.97 125.45 L404.45 123.54 L402.93 121.65 L401.41 119.77 L399.90 117.91 L398.38 116.08 L396.86 114.27 L395.34 112.49 L393.82 110.73 L392.30 109.00 L390.78 107.29 L389.26 105.62 L387.75 103.98 L386.23 102.37 L384.71 100.80 L383.19 99.26 L381.67 97.76 L380.15 96.29 L378.63 94.86 L377.11 93.45 L375.60 92.07 L374.08 90.72 L372.56 89.39 L371.04 88.09 L369.52 86.81 L368.00 85.54 L366.48 84.30 L364.96 83.07 L363.45 81.85 L361.93 80.65 L360.41 79.46 L358.89 78.29 L357.37 77.15 L355.85 76.04 L354.33 74.98 L352.82 73.96 L351.30 72.98 L349.78 72.07 L348.26 71.21 L346.74 70.40 L345.22 69.64 L343.70 68.93 L342.18 68.27 L340.67 67.67 L339.15 67.12 L337.63 66.62 L336.11 66.19 L334.59 65.80 L333.07 65.48 L331.55 65.21 L330.03 64.99 L328.52 64.84 L327.00 64.74 L325.48 64.69 L323.96 64.71 L322.44 64.77 L320.92 64.90 L319.40 65.08 L317.88 65.32 L316.37 65.61 L314.85 65.96 L313.33 66.36 L311.81 66.81 L310.29 67.30 L308.77 67.83 L307.25 68.40 L305.73 69.00 L304.22 69.63 L302.70 70.29 L301.18 70.99 L299.66 71.72 L298.14 72.48 L296.62 73.27 L295.10 74.10 L293.58 74.96 L292.07 75.84 L290.55 76.76 L289.03 77.71 L287.51 78.69 L285.99 79.71 L284.47 80.77 L282.95 81.88 L281.43 83.05 L279.92 84.28 L278.40 85.57 L276.88 86.94 L275.36 88.39 L273.84 89.93 L272.32 91.54 L270.80 93.23 L269.29 94.98 L267.77 96.80 L266.25 98.68 L264.73 100.61 L263.21 102.59 L261.69 104.61 L260.17 106.66 L258.65 108.75 L257.14 110.86 L255.62 112.98 L254.10 115.11 L252.58 117.24 L251.06 119.36 L249.54 121.46 L248.02 123.53 L246.50 125.57 L244.99 127.57 L243.47 129.52 L241.95 131.43 L240.43 133.30 L238.91 135.15 L237.39 136.97 L235.87 138.78 L234.35 140.58 L232.84 142.37 L231.32 144.17 L229.80 145.98 L228.28 147.81 L226.76 149.66 L225.24 151.55 L223.72 153.47 L222.20 155.42 L220.69 157.41 L219.17 159.42 L217.65 161.45 L216.13 163.51 L214.61 165.58 L213.09 167.66 L211.57 169.76 L210.05 171.85 L208.54 173.95 L207.02 176.05 L205.50 178.14 L203.98 180.22 L202.46 182.29 L200.94 184.34 L199.42 186.37 L197.91 188.38 L196.39 190.36 L194.87 192.33 L193.35 194.28 L191.83 196.22 L190.31 198.14 L188.79 200.04 L187.27 201.94 L185.76 203.82 L184.24 205.70 L182.72 207.57 L181.20 209.43 L179.68 211.29 L178.16 213.14 L176.64 214.99 L175.12 216.85 L173.61 218.71 L172.09 220.57 L170.57 222.43 L169.05 224.30 L167.53 226.17 L166.01 228.04 L164.49 229.91 L162.97 231.77 L161.46 233.63 L159.94 235.49 L158.42 237.33 L156.90 239.17 L155.38 241.01 L153.86 242.83 L152.34 244.64 L150.82 246.43 L149.31 248.21 L147.79 249.98 L146.27 251.73 L144.75 253.47 L143.23 255.19 L141.71 256.90 L140.19 258.59 L138.67 260.28 L137.16 261.95 L135.64 263.61 L134.12 265.26 L132.60 266.90 L131.08 268.53 L129.56 270.15 L128.04 271.76 L126.52 273.36 L125.01 274.94 L123.49 276.51 L121.97 278.06 L120.45 279.60 Z" fill="#80b280"/>
<path d="M126.79 20V340M133.57 20V340M140.36 20V340M147.14 20V340M153.93 20V340M160.71 20V340M167.50 20V340M174.29 20V340M181.07 20V340M187.86 20V340M194.64 20V340M201.43 20V340M208.21 20V340M215.00 20V340M221.79 20V340M228.57 20V340M235.36 20V340M242.14 20V340M248.93 20V340M255.71 20V340M262.50 20V340M269.29 20V340M276.07 20V340M282.86 20V340M289.64 20V340M296.43 20V340M303.21 20V340M310.00 20V340M316.79 20V340M323.57 20V340M330.36 20V340M337.14 20V340M343.93 20V340M350.71 20V340M357.50 20V340M364.29 20V340M371.07 20V340M377.86 20V340M384.64 20V340M391.43 20V340M398.21 20V340M405.00 20V340M411.79 20V340M418.57 20V340M425.36 20V340M432.14 20V340M438.93 20V340M445.71 20V340M452.50 20V340M459.29 20V340M466.07 20V340M472.86 20V340M479.64 20V340M486.43 20V340M493.21 20V340M500.00 20V340M506.79 20V340" stroke="#fff" stroke-opacity="0.07" stroke-width="1" fill="none" clip-path="url(#cg)"/>
<path d="M120.45 290.00 L121.97 288.56 L123.49 287.07 L125.01 285.52 L126.52 283.93 L128.04 282.30 L129.56 280.63 L131.08 278.94 L132.60 277.21 L134.12 275.47 L135.64 273.71 L137.16 271.96 L138.67 270.21 L140.19 268.47 L141.71 266.74 L143.23 265.01 L144.75 263.28 L146.27 261.56 L147.79 259.85 L149.31 258.13 L150.82 256.43 L152.34 254.75 L153.86 253.10 L155.38 251.47 L156.90 249.85 L158.42 248.24 L159.94 246.63 L161.46 245.01 L162.97 243.38 L164.49 241.72 L166.01 240.04 L167.53 238.33 L169.05 236.58 L170.57 234.78 L172.09 232.93 L173.61 231.01 L175.12 229.04 L176.64 226.99 L178.16 224.88 L179.68 222.72 L181.20 220.50 L182.72 218.25 L184.24 215.96 L185.76 213.63 L187.27 211.29 L188.79 208.92 L190.31 206.55 L191.83 204.17 L193.35 201.79 L194.87 199.42 L196.39 197.06 L197.91 194.73 L199.42 192.42 L200.94 190.14 L202.46 187.89 L203.98 185.67 L205.50 183.48 L207.02 181.32 L208.54 179.18 L210.05 177.05 L211.57 174.95 L213.09 172.87 L214.61 170.81 L216.13 168.76 L217.65 166.72 L219.17 164.70 L220.69 162.68 L222.20 160.68 L223.72 158.68 L225.24 156.68 L226.76 154.69 L228.28 152.70 L229.80 150.71 L231.32 148.73 L232.84 146.74 L234.35 144.76 L235.87 142.79 L237.39 140.82 L238.91 138.86 L240.43 136.90 L241.95 134.95 L243.47 133.00 L244.99 131.07 L246.50 129.14 L248.02 127.21 L249.54 125.29 L251.06 123.37 L252.58 121.46 L254.10 119.55 L255.62 117.66 L257.14 115.77 L258.65 113.90 L260.17 112.04 L261.69 110.19 L263.21 108.35 L264.73 106.52 L266.25 104.71 L267.77 102.92 L269.29 101.16 L270.80 99.42 L272.32 97.72 L273.84 96.05 L275.36 94.42 L276.88 92.82 L278.40 91.27 L279.92 89.76 L281.43 88.29 L282.95 86.86 L284.47 85.48 L285.99 84.14 L287.51 82.85 L289.03 81.62 L290.55 80.43 L292.07 79.29 L293.58 78.20 L295.10 77.16 L296.62 76.18 L298.14 75.25 L299.66 74.38 L301.18 73.57 L302.70 72.82 L304.22 72.13 L305.73 71.51 L307.25 70.95 L308.77 70.46 L310.29 70.02 L311.81 69.65 L313.33 69.32 L314.85 69.04 L316.37 68.81 L317.88 68.61 L319.40 68.45 L320.92 68.33 L322.44 68.24 L323.96 68.19 L325.48 68.19 L327.00 68.23 L328.52 68.30 L330.03 68.42 L331.55 68.58 L333.07 68.79 L334.59 69.03 L336.11 69.31 L337.63 69.64 L339.15 70.00 L340.67 70.40 L342.18 70.84 L343.70 71.32 L345.22 71.84 L346.74 72.39 L348.26 72.98 L349.78 73.61 L351.30 74.28 L352.82 75.01 L354.33 75.79 L355.85 76.63 L357.37 77.51 L358.89 78.43 L360.41 79.38 L361.93 80.36 L363.45 81.36 L364.96 82.38 L366.48 83.41 L368.00 84.49 L369.52 85.59 L371.04 86.73 L372.56 87.90 L374.08 89.10 L375.60 90.33 L377.11 91.59 L378.63 92.89 L380.15 94.22 L381.67 95.57 L383.19 96.96 L384.71 98.37 L386.23 99.82 L387.75 101.30 L389.26 102.81 L390.78 104.35 L392.30 105.93 L393.82 107.53 L395.34 109.17 L396.86 110.84 L398.38 112.53 L399.90 114.26 L401.41 116.01 L402.93 117.80 L404.45 119.61 L405.97 121.44 L407.49 123.31 L409.01 125.20 L410.53 127.12 L412.05 129.05 L413.56 131.00 L415.08 132.97 L416.60 134.95 L418.12 136.95 L419.64 138.96 L421.16 140.98 L422.68 143.02 L424.20 145.07 L425.71 147.12 L427.23 149.19 L428.75 151.27 L430.27 153.35 L431.79 155.45 L433.31 157.55 L434.83 159.66 L436.34 161.78 L437.86 163.91 L439.38 166.05 L440.90 168.20 L442.42 170.36 L443.94 172.52 L445.46 174.69 L446.98 176.87 L448.49 179.05 L450.01 181.23 L451.53 183.42 L453.05 185.60 L454.57 187.78 L456.09 189.96 L457.61 192.14 L459.13 194.30 L460.64 196.47 L462.16 198.64 L463.68 200.81 L465.20 202.98 L466.72 205.15 L468.24 207.31 L469.76 209.47 L471.28 211.61 L472.79 213.74 L474.31 215.84 L475.83 217.92 L477.35 219.98 L478.87 222.01 L480.39 224.01 L481.91 225.98 L483.43 227.94 L484.94 229.88 L486.46 231.80 L487.98 233.72 L489.50 235.63 L491.02 237.54 L492.54 239.44 L494.06 241.34 L495.58 243.25 L497.09 245.16 L498.61 247.06 L500.13 248.82 L501.65 250.47 L503.17 252.07 L504.69 253.69 L506.21 255.39 L507.73 257.17 L509.24 258.99 L510.76 260.84 L512.28 262.73 L513.80 264.65 L513.80 274.55 L512.28 272.15 L510.76 269.77 L509.24 267.42 L507.73 265.08 L506.21 262.76 L504.69 260.40 L503.17 258.02 L501.65 255.66 L500.13 253.40 L498.61 251.29 L497.09 249.36 L495.58 247.48 L494.06 245.62 L492.54 243.77 L491.02 241.95 L489.50 240.13 L487.98 238.32 L486.46 236.51 L484.94 234.69 L483.43 232.87 L481.91 231.03 L480.39 229.18 L478.87 227.30 L477.35 225.42 L475.83 223.53 L474.31 221.63 L472.79 219.71 L471.28 217.79 L469.76 215.86 L468.24 213.93 L466.72 211.98 L465.20 210.02 L463.68 208.05 L462.16 206.08 L460.64 204.09 L459.13 202.10 L457.61 200.12 L456.09 198.14 L454.57 196.16 L453.05 194.18 L451.53 192.20 L450.01 190.21 L448.49 188.23 L446.98 186.23 L445.46 184.23 L443.94 182.22 L442.42 180.20 L440.90 178.16 L439.38 176.11 L437.86 174.05 L436.34 171.96 L434.83 169.86 L433.31 167.74 L431.79 165.61 L430.27 163.46 L428.75 161.32 L427.23 159.17 L425.71 157.02 L424.20 154.87 L422.68 152.72 L421.16 150.58 L419.64 148.46 L418.12 146.34 L416.60 144.24 L415.08 142.16 L413.56 140.10 L412.05 138.06 L410.53 136.04 L409.01 134.05 L407.49 132.09 L405.97 130.15 L404.45 128.23 L402.93 126.34 L401.41 124.47 L399.90 122.64 L398.38 120.84 L396.86 119.07 L395.34 117.33 L393.82 115.63 L392.30 113.97 L390.78 112.34 L389.26 110.76 L387.75 109.22 L386.23 107.73 L384.71 106.28 L383.19 104.87 L381.67 103.52 L380.15 102.22 L378.63 100.96 L377.11 99.74 L375.60 98.57 L374.08 97.43 L372.56 96.34 L371.04 95.28 L369.52 94.26 L368.00 93.27 L366.48 92.31 L364.96 91.38 L363.45 90.49 L361.93 89.65 L360.41 88.85 L358.89 88.09 L357.37 87.36 L355.85 86.65 L354.33 85.97 L352.82 85.31 L351.30 84.65 L349.78 84.01 L348.26 83.38 L346.74 82.79 L345.22 82.24 L343.70 81.72 L342.18 81.24 L340.67 80.80 L339.15 80.40 L337.63 80.04 L336.11 79.71 L334.59 79.43 L333.07 79.19 L331.55 78.98 L330.03 78.82 L328.52 78.70 L327.00 78.63 L325.48 78.59 L323.96 78.59 L322.44 78.64 L320.92 78.73 L319.40 78.86 L317.88 79.04 L316.37 79.27 L314.85 79.55 L313.33 79.89 L311.81 80.27 L310.29 80.71 L308.77 81.19 L307.25 81.72 L305.73 82.30 L304.22 82.93 L302.70 83.61 L301.18 84.34 L299.66 85.12 L298.14 85.96 L296.62 86.85 L295.10 87.79 L293.58 88.78 L292.07 89.83 L290.55 90.94 L289.03 92.10 L287.51 93.31 L285.99 94.56 L284.47 95.87 L282.95 97.22 L281.43 98.62 L279.92 100.06 L278.40 101.54 L276.88 103.06 L275.36 104.62 L273.84 106.22 L272.32 107.86 L270.80 109.52 L269.29 111.22 L267.77 112.94 L266.25 114.69 L264.73 116.47 L263.21 118.27 L261.69 120.09 L260.17 121.94 L258.65 123.80 L257.14 125.67 L255.62 127.56 L254.10 129.45 L252.58 131.36 L251.06 133.27 L249.54 135.19 L248.02 137.11 L246.50 139.04 L244.99 140.97 L243.47 142.90 L241.95 144.83 L240.43 146.75 L238.91 148.68 L237.39 150.60 L235.87 152.52 L234.35 154.45 L232.84 156.38 L231.32 158.31 L229.80 160.25 L228.28 162.19 L226.76 164.13 L225.24 166.09 L223.72 168.05 L222.20 170.02 L220.69 171.99 L219.17 173.98 L217.65 175.97 L216.13 177.98 L214.61 180.01 L213.09 182.04 L211.57 184.10 L210.05 186.17 L208.54 188.26 L207.02 190.38 L205.50 192.51 L203.98 194.67 L202.46 196.85 L200.94 199.06 L199.42 201.30 L197.91 203.56 L196.39 205.84 L194.87 208.14 L193.35 210.44 L191.83 212.75 L190.31 215.06 L188.79 217.36 L187.27 219.65 L185.76 221.92 L184.24 224.18 L182.72 226.41 L181.20 228.61 L179.68 230.78 L178.16 232.91 L176.64 235.00 L175.12 237.04 L173.61 239.02 L172.09 240.97 L170.57 242.87 L169.05 244.74 L167.53 246.58 L166.01 248.40 L164.49 250.20 L162.97 251.98 L161.46 253.76 L159.94 255.54 L158.42 257.31 L156.90 259.10 L155.38 260.90 L153.86 262.71 L152.34 264.55 L150.82 266.42 L149.31 268.33 L147.79 270.29 L146.27 272.31 L144.75 274.38 L143.23 276.48 L141.71 278.60 L140.19 280.73 L138.67 282.86 L137.16 284.98 L135.64 287.08 L134.12 289.15 L132.60 291.20 L131.08 293.22 L129.56 295.21 L128.04 297.16 L126.52 299.07 L125.01 300.94 L123.49 302.75 L121.97 304.51 L120.45 306.20 Z" fill="#8080ff"/>
<path d="M126.79 20V340M133.57 20V340M140.36 20V340M147.14 20V340M153.93 20V340M160.71 20V340M167.50 20V340M174.29 20V340M181.07 20V340M187.86 20V340M194.64 20V340M201.43 20V340M208.21 20V340M215.00 20V340M221.79 20V340M228.57 20V340M235.36 20V340M242.14 20V340M248.93 20V340M255.71 20V340M262.50 20V340M269.29 20V340M276.07 20V340M282.86 20V340M289.64 20V340M296.43 20V340M303.21 20V340M310.00 20V340M316.79 20V340M323.57 20V340M330.36 20V340M337.14 20V340M343.93 20V340M350.71 20V340M357.50 20V340M364.29 20V340M371.07 20V340M377.86 20V340M384.64 20V340M391.43 20V340M398.21 20V340M405.00 20V340M411.79 20V340M418.57 20V340M425.36 20V340M432.14 20V340M438.93 20V340M445.71 20V340M452.50 20V340M459.29 20V340M466.07 20V340M472.86 20V340M479.64 20V340M486.43 20V340M493.21 20V340M500.00 20V340M506.79 20V340" stroke="#fff" stroke-opacity="0.07" stroke-width="1" fill="none" clip-path="url(#cb)"/>
<path d="M97.10 249.45V254.35M95.20 249.45h3.80M95.20 254.35h3.80" stroke="#ff0000" stroke-width="1.00" fill="none"/>
<rect x="92.80" y="247.60" width="8.60" height="8.60" stroke="#ff0000" stroke-width="1.15" fill="none"/>
<path d="M146.60 197.80V202.80M144.70 197.80h3.80M144.70 202.80h3.80" stroke="#ff0000" stroke-width="1.00" fill="none"/>
<rect x="142.30" y="196.00" width="8.60" height="8.60" stroke="#ff0000" stroke-width="1.15" fill="none"/>
<path d="M177.00 159.25V164.55M175.10 159.25h3.80M175.10 164.55h3.80" stroke="#ff0000" stroke-width="1.00" fill="none"/>
<rect x="172.70" y="157.60" width="8.60" height="8.60" stroke="#ff0000" stroke-width="1.15" fill="none"/>
<path d="M208.10 122.00V127.20M206.20 122.00h3.80M206.20 127.20h3.80" stroke="#ff0000" stroke-width="1.00" fill="none"/>
<rect x="203.80" y="120.30" width="8.60" height="8.60" stroke="#ff0000" stroke-width="1.15" fill="none"/>
<path d="M238.70 85.10V90.30M236.80 85.10h3.80M236.80 90.30h3.80" stroke="#ff0000" stroke-width="1.00" fill="none"/>
<rect x="234.40" y="83.40" width="8.60" height="8.60" stroke="#ff0000" stroke-width="1.15" fill="none"/>
<path d="M290.00 42.25V47.55M288.10 42.25h3.80M288.10 47.55h3.80" stroke="#ff0000" stroke-width="1.00" fill="none"/>
<rect x="285.70" y="40.60" width="8.60" height="8.60" stroke="#ff0000" stroke-width="1.15" fill="none"/>
<path d="M328.60 51.20V54.40M326.70 51.20h3.80M326.70 54.40h3.80" stroke="#ff0000" stroke-width="1.00" fill="none"/>
<rect x="324.30" y="48.50" width="8.60" height="8.60" stroke="#ff0000" stroke-width="1.15" fill="none"/>
<path d="M368.10 82.35V85.65M366.20 82.35h3.80M366.20 85.65h3.80" stroke="#ff0000" stroke-width="1.00" fill="none"/>
<rect x="363.80" y="79.70" width="8.60" height="8.60" stroke="#ff0000" stroke-width="1.15" fill="none"/>
<path d="M442.20 173.80V177.00M440.30 173.80h3.80M440.30 177.00h3.80" stroke="#ff0000" stroke-width="1.00" fill="none"/>
<rect x="437.90" y="171.10" width="8.60" height="8.60" stroke="#ff0000" stroke-width="1.15" fill="none"/>
<path d="M493.00 236.80V241.20M491.10 236.80h3.80M491.10 241.20h3.80" stroke="#ff0000" stroke-width="1.00" fill="none"/>
<rect x="488.70" y="234.70" width="8.60" height="8.60" stroke="#ff0000" stroke-width="1.15" fill="none"/>
<path d="M146.50 246.25V250.95M144.90 246.25h3.20M144.90 250.95h3.20" stroke="#006400" stroke-width="1.00" fill="none"/>
<circle cx="146.50" cy="248.60" r="4.75" stroke="#006400" stroke-width="1.25" fill="none"/>
<path d="M176.80 209.00V213.80M175.20 209.00h3.20M175.20 213.80h3.20" stroke="#006400" stroke-width="1.00" fill="none"/>
<circle cx="176.80" cy="211.40" r="4.75" stroke="#006400" stroke-width="1.25" fill="none"/>
<path d="M207.40 167.60V172.40M205.80 167.60h3.20M205.80 172.40h3.20" stroke="#006400" stroke-width="1.00" fill="none"/>
<circle cx="207.40" cy="170.00" r="4.75" stroke="#006400" stroke-width="1.25" fill="none"/>
<path d="M238.90 130.70V137.70M237.30 130.70h3.20M237.30 137.70h3.20" stroke="#006400" stroke-width="1.00" fill="none"/>
<circle cx="238.90" cy="134.20" r="4.75" stroke="#006400" stroke-width="1.25" fill="none"/>
<path d="M289.80 69.30V75.70M288.20 69.30h3.20M288.20 75.70h3.20" stroke="#006400" stroke-width="1.00" fill="none"/>
<circle cx="289.80" cy="72.50" r="4.75" stroke="#006400" stroke-width="1.25" fill="none"/>
<path d="M328.50 56.10V65.70M326.90 56.10h3.20M326.90 65.70h3.20" stroke="#006400" stroke-width="1.00" fill="none"/>
<circle cx="328.50" cy="60.90" r="4.75" stroke="#006400" stroke-width="1.25" fill="none"/>
<path d="M368.10 80.80V86.40M366.50 80.80h3.20M366.50 86.40h3.20" stroke="#006400" stroke-width="1.00" fill="none"/>
<circle cx="368.10" cy="83.60" r="4.75" stroke="#006400" stroke-width="1.25" fill="none"/>
<path d="M442.40 169.70V174.10M440.80 169.70h3.20M440.80 174.10h3.20" stroke="#006400" stroke-width="1.00" fill="none"/>
<circle cx="442.40" cy="171.90" r="4.75" stroke="#006400" stroke-width="1.25" fill="none"/>
<path d="M493.00 240.60V245.00M491.40 240.60h3.20M491.40 245.00h3.20" stroke="#006400" stroke-width="1.00" fill="none"/>
<circle cx="493.00" cy="242.80" r="4.75" stroke="#006400" stroke-width="1.25" fill="none"/>
<path d="M146.50 261.20V269.80M145.50 261.20h2.00M145.50 269.80h2.00" stroke="#0000ff" stroke-width="1.00" fill="none"/>
<path d="M141.90 265.50L146.50 260.90L151.10 265.50L146.50 270.10Z" stroke="#0000ff" stroke-width="1.25" fill="none"/>
<path d="M176.80 226.80V235.40M175.80 226.80h2.00M175.80 235.40h2.00" stroke="#0000ff" stroke-width="1.00" fill="none"/>
<path d="M172.20 231.10L176.80 226.50L181.40 231.10L176.80 235.70Z" stroke="#0000ff" stroke-width="1.25" fill="none"/>
<path d="M207.76 183.85V192.45M206.76 183.85h2.00M206.76 192.45h2.00" stroke="#0000ff" stroke-width="1.00" fill="none"/>
<path d="M203.16 188.15L207.76 183.55L212.36 188.15L207.76 192.75Z" stroke="#0000ff" stroke-width="1.25" fill="none"/>
<path d="M238.90 129.10V145.90M237.00 129.10h3.80M237.00 145.90h3.80" stroke="#0000ff" stroke-width="1.00" fill="none"/>
<path d="M234.30 137.50L238.90 132.90L243.50 137.50L238.90 142.10Z" stroke="#0000ff" stroke-width="1.25" fill="none"/>
<path d="M289.80 80.80V92.60M287.90 80.80h3.80M287.90 92.60h3.80" stroke="#0000ff" stroke-width="1.00" fill="none"/>
<path d="M285.20 86.70L289.80 82.10L294.40 86.70L289.80 91.30Z" stroke="#0000ff" stroke-width="1.25" fill="none"/>
<path d="M328.50 65.40V81.20M326.60 65.40h3.80M326.60 81.20h3.80" stroke="#0000ff" stroke-width="1.00" fill="none"/>
<path d="M323.90 73.30L328.50 68.70L333.10 73.30L328.50 77.90Z" stroke="#0000ff" stroke-width="1.25" fill="none"/>
<path d="M368.20 84.90V93.90M367.20 84.90h2.00M367.20 93.90h2.00" stroke="#0000ff" stroke-width="1.00" fill="none"/>
<path d="M363.60 89.40L368.20 84.80L372.80 89.40L368.20 94.00Z" stroke="#0000ff" stroke-width="1.25" fill="none"/>
<path d="M442.40 168.00V176.00M441.40 168.00h2.00M441.40 176.00h2.00" stroke="#0000ff" stroke-width="1.00" fill="none"/>
<path d="M437.80 172.00L442.40 167.40L447.00 172.00L442.40 176.60Z" stroke="#0000ff" stroke-width="1.25" fill="none"/>
<path d="M493.00 240.60V248.60M492.00 240.60h2.00M492.00 248.60h2.00" stroke="#0000ff" stroke-width="1.00" fill="none"/>
<path d="M488.40 244.60L493.00 240.00L497.60 244.60L493.00 249.20Z" stroke="#0000ff" stroke-width="1.25" fill="none"/>
<rect x="121.25" y="223.80" width="4.8" height="3.2" fill="#000"/>
<rect x="119.35" y="221.10" width="8.60" height="8.60" stroke="#000000" stroke-width="1.60" fill="none"/>
<rect x="155.32" y="233.10" width="5.9" height="3.5" fill="#000"/>
<circle cx="158.27" cy="235.30" r="4.70" stroke="#000000" stroke-width="1.65" fill="none"/>
<path d="M163.30 241.50h7M166.80 238.00v7" stroke="#000" stroke-width="1.25"/>
<path d="M162.40 241.50L166.80 237.10L171.20 241.50L166.80 245.90Z" stroke="#000000" stroke-width="1.70" fill="none"/>
</g>
<g>
<rect x="72.5" y="22.0" width="475.0" height="315.5" fill="none" stroke="#000" stroke-width="1"/>
<path d="M86.5 337.5v-2.5M86.5 22.0v2.0M99.5 337.5v-2.5M99.5 22.0v2.0M113.5 337.5v-2.5M113.5 22.0v2.0M126.5 337.5v-2.5M126.5 22.0v2.0M140.5 337.5v-4.5M140.5 22.0v4.0M153.5 337.5v-2.5M153.5 22.0v2.0M167.5 337.5v-2.5M167.5 22.0v2.0M181.5 337.5v-2.5M181.5 22.0v2.0M194.5 337.5v-2.5M194.5 22.0v2.0M208.5 337.5v-4.5M208.5 22.0v4.0M221.5 337.5v-2.5M221.5 22.0v2.0M235.5 337.5v-2.5M235.5 22.0v2.0M248.5 337.5v-2.5M248.5 22.0v2.0M262.5 337.5v-2.5M262.5 22.0v2.0M276.5 337.5v-4.5M276.5 22.0v4.0M289.5 337.5v-2.5M289.5 22.0v2.0M303.5 337.5v-2.5M303.5 22.0v2.0M316.5 337.5v-2.5M316.5 22.0v2.0M330.5 337.5v-2.5M330.5 22.0v2.0M343.5 337.5v-4.5M343.5 22.0v4.0M357.5 337.5v-2.5M357.5 22.0v2.0M371.5 337.5v-2.5M371.5 22.0v2.0M384.5 337.5v-2.5M384.5 22.0v2.0M398.5 337.5v-2.5M398.5 22.0v2.0M411.5 337.5v-4.5M411.5 22.0v4.0M425.5 337.5v-2.5M425.5 22.0v2.0M438.5 337.5v-2.5M438.5 22.0v2.0M452.5 337.5v-2.5M452.5 22.0v2.0M466.5 337.5v-2.5M466.5 22.0v2.0M479.5 337.5v-4.5M479.5 22.0v4.0M493.5 337.5v-2.5M493.5 22.0v2.0M506.5 337.5v-2.5M506.5 22.0v2.0M520.5 337.5v-2.5M520.5 22.0v2.0M533.5 337.5v-2.5M533.5 22.0v2.0M72.5 284.5h4.5M547.5 284.5h-4.5M72.5 232.5h4.5M547.5 232.5h-4.5M72.5 179.5h4.5M547.5 179.5h-4.5M72.5 127.5h4.5M547.5 127.5h-4.5M72.5 74.5h4.5M547.5 74.5h-4.5" stroke="#000" stroke-width="1" fill="none"/>
<path d="M80.2 37.3C80.5 35.5 82.3 34.9 83.2 36.8L86.5 45.4C87.3 47.6 88.9 47.9 89.9 45.7M88.6 35.4L80.8 47.7" stroke="#000" stroke-width="1.45" fill="none" stroke-linecap="butt"/>
</g>
<g font-size="18.7">
<text x="75.10" y="362.5" text-anchor="middle" letter-spacing="-0.4">135</text>
<text x="142.96" y="362.5" text-anchor="middle" letter-spacing="-0.4">140</text>
<text x="210.81" y="362.5" text-anchor="middle" letter-spacing="-0.4">145</text>
<text x="278.67" y="362.5" text-anchor="middle" letter-spacing="-0.4">150</text>
<text x="346.53" y="362.5" text-anchor="middle" letter-spacing="-0.4">155</text>
<text x="414.39" y="362.5" text-anchor="middle" letter-spacing="-0.4">160</text>
<text x="482.24" y="362.5" text-anchor="middle" letter-spacing="-0.4">165</text>
<text x="550.10" y="362.5" text-anchor="middle" letter-spacing="-0.4">170</text>
<text x="60.7" y="343.30" text-anchor="end" letter-spacing="-0.4">150</text>
<text x="60.7" y="290.72" text-anchor="end" letter-spacing="-0.4">200</text>
<text x="60.7" y="238.13" text-anchor="end" letter-spacing="-0.4">250</text>
<text x="60.7" y="185.55" text-anchor="end" letter-spacing="-0.4">300</text>
<text x="60.7" y="132.97" text-anchor="end" letter-spacing="-0.4">350</text>
<text x="60.7" y="80.38" text-anchor="end" letter-spacing="-0.4">400</text>
<text x="60.7" y="27.80" text-anchor="end" letter-spacing="-0.4">450</text>
<text x="80.0" y="44.4" style="fill:none;stroke:none">χ</text>
<text x="90.0" y="49.6" font-size="15">M</text>
<text x="389.8" y="324.9">T [MeV]</text>
</g>
<g font-size="15.2" letter-spacing="0.25">
<text x="293.0" y="246.9">N<tspan font-size="12.2" dy="4.5">τ</tspan><tspan dy="-4.5">=8</tspan></text>
<text x="277.6" y="278.0">m<tspan font-size="12.2" dy="4.5">s</tspan><tspan dy="-4.5">/m</tspan><tspan font-size="12.2" dy="4.5">l</tspan><tspan dy="-4.5">=80</tspan></text>
<text x="442.6" y="44.20">N<tspan font-size="12.2" dy="4.5">σ</tspan><tspan dy="-4.5">=32</tspan></text>
<text x="442.6" y="72.00">N<tspan font-size="12.2" dy="4.5">σ</tspan><tspan dy="-4.5">=40</tspan></text>
<text x="442.6" y="99.80">N<tspan font-size="12.2" dy="4.5">σ</tspan><tspan dy="-4.5">=56</tspan></text>
</g>
<g>
<path d="M498.6 39.70H525.6M498.6 37.60v4.2M525.6 37.60v4.2" stroke="#ff0000" stroke-width="1.2" fill="none"/>
<rect x="507.40" y="35.40" width="8.60" height="8.60" stroke="#ff0000" stroke-width="1.15" fill="none"/>
<path d="M498.6 67.50H525.6M498.6 65.40v4.2M525.6 65.40v4.2" stroke="#006400" stroke-width="1.2" fill="none"/>
<circle cx="511.70" cy="67.50" r="4.75" stroke="#006400" stroke-width="1.25" fill="none"/>
<path d="M498.6 95.30H525.6M498.6 93.20v4.2M525.6 93.20v4.2" stroke="#0000ff" stroke-width="1.2" fill="none"/>
<path d="M507.10 95.30L511.70 90.70L516.30 95.30L511.70 99.90Z" stroke="#0000ff" stroke-width="1.25" fill="none"/>
</g>
</svg>
</body></html>
